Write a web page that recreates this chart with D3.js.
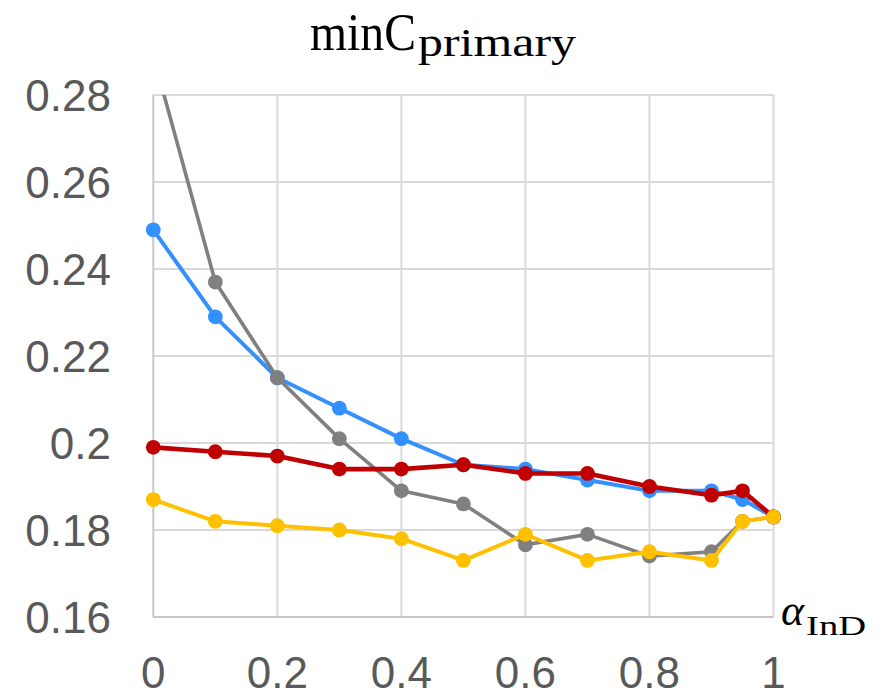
<!DOCTYPE html>
<html>
<head>
<meta charset="utf-8">
<script src="https://cdn.jsdelivr.net/npm/d3@7"></script>
<style>
  body { margin: 0; background: #fff; }
  svg { display: block; }
</style>
</head>
<body>
<script>
// data
var alpha = [0, 0.1, 0.2, 0.3, 0.4, 0.5, 0.6, 0.7, 0.8, 0.9, 0.95, 1];
var blueVals   = [0.249, 0.229, 0.215, 0.208, 0.201, 0.195, 0.194, 0.1915, 0.189, 0.189, 0.187, 0.183];
var grayVals   = [0.289, 0.237, 0.215, 0.201, 0.189, 0.186, 0.1766, 0.179, 0.174, 0.175, 0.182, 0.183];
var redVals    = [0.199, 0.198, 0.197, 0.194, 0.194, 0.195, 0.193, 0.193, 0.190, 0.188, 0.189, 0.183];
var yellowVals = [0.187, 0.182, 0.181, 0.180, 0.178, 0.173, 0.179, 0.173, 0.175, 0.173, 0.182, 0.183];
var xTicks = [0, 0.2, 0.4, 0.6, 0.8, 1];
var yTicks = [0.16, 0.18, 0.2, 0.22, 0.24, 0.26, 0.28];

// draw order: blue under gray under red under yellow
var series = [
  {vals: blueVals,   color: "#3390ff", width: 4},
  {vals: grayVals,   color: "#808080", width: 3.6},
  {vals: redVals,    color: "#c00000", width: 4.6},
  {vals: yellowVals, color: "#ffc000", width: 4}
];

var width = 881, height = 691;
var plot = {left: 153.3, right: 773.5, top: 95, bottom: 617};

var x = d3.scaleLinear().domain([0, 1]).range([plot.left, plot.right]);
var y = d3.scaleLinear().domain([0.16, 0.28]).range([plot.bottom, plot.top]);

var svg = d3.select("body").append("svg")
    .attr("width", width)
    .attr("height", height);

svg.append("defs").append("clipPath")
    .attr("id", "plotclip")
  .append("rect")
    .attr("x", plot.left - 10)
    .attr("y", plot.top)
    .attr("width", plot.right - plot.left + 20)
    .attr("height", plot.bottom - plot.top + 10);

// gridlines
svg.append("g")
    .selectAll("line")
    .data(yTicks.slice(1))
    .enter().append("line")
    .attr("x1", plot.left).attr("x2", plot.right)
    .attr("y1", function(d) { return y(d); })
    .attr("y2", function(d) { return y(d); })
    .attr("stroke", "#d9d9d9")
    .attr("stroke-width", 2);

svg.append("g")
    .selectAll("line")
    .data(xTicks.slice(1))
    .enter().append("line")
    .attr("y1", plot.top).attr("y2", plot.bottom)
    .attr("x1", function(d) { return x(d); })
    .attr("x2", function(d) { return x(d); })
    .attr("stroke", "#d9d9d9")
    .attr("stroke-width", 2);

// axis lines
svg.append("line")
    .attr("x1", plot.left).attr("x2", plot.left)
    .attr("y1", plot.top).attr("y2", plot.bottom)
    .attr("stroke", "#c8c8c8").attr("stroke-width", 2);
svg.append("line")
    .attr("x1", plot.left).attr("x2", plot.right)
    .attr("y1", plot.bottom).attr("y2", plot.bottom)
    .attr("stroke", "#c8c8c8").attr("stroke-width", 2);

// tick labels
svg.append("g")
    .selectAll("text")
    .data(yTicks)
    .enter().append("text")
    .attr("x", 111)
    .attr("y", function(d) { return y(d); })
    .attr("dy", "0.36em")
    .attr("text-anchor", "end")
    .style("font-family", "Liberation Sans, Arial, sans-serif")
    .style("font-size", "44px")
    .style("fill", "#595959")
    .text(function(d) { return d3.format("")(+d.toFixed(2)); });

svg.append("g")
    .selectAll("text")
    .data(xTicks)
    .enter().append("text")
    .attr("x", function(d) { return x(d); })
    .attr("y", 688)
    .attr("text-anchor", "middle")
    .style("font-family", "Liberation Sans, Arial, sans-serif")
    .style("font-size", "44px")
    .style("fill", "#595959")
    .text(function(d) { return d3.format("")(+d.toFixed(1)); });

// lines and markers
var line = d3.line()
    .x(function(d, i) { return x(alpha[i]); })
    .y(function(d) { return y(d); });

var lines = svg.append("g").attr("clip-path", "url(#plotclip)");

series.forEach(function(s) {
  lines.append("path")
      .datum(s.vals)
      .attr("fill", "none")
      .attr("stroke", s.color)
      .attr("stroke-width", s.width)
      .attr("stroke-linejoin", "round")
      .attr("d", line);
  lines.selectAll(null)
      .data(s.vals)
      .enter().append("circle")
      .attr("cx", function(d, i) { return x(alpha[i]); })
      .attr("cy", function(d) { return y(d); })
      .attr("r", 7.4)
      .attr("fill", s.color);
});

// title
var title = svg.append("text")
    .attr("x", 310)
    .attr("y", 50)
    .style("font-family", "Liberation Serif, serif")
    .style("font-size", "52px")
    .style("fill", "#000");
title.append("tspan")
    .attr("textLength", 106)
    .attr("lengthAdjust", "spacingAndGlyphs")
    .text("minC");
title.append("tspan")
    .attr("dx", 2)
    .attr("dy", 6)
    .attr("textLength", 158)
    .attr("lengthAdjust", "spacingAndGlyphs")
    .style("font-size", "39px")
    .text("primary");

// x axis label
var xl = svg.append("text")
    .attr("x", 781)
    .attr("y", 625)
    .style("font-family", "Liberation Serif, serif")
    .style("fill", "#000");
xl.append("tspan")
    .style("font-style", "italic")
    .style("font-size", "44px")
    .text("α");
xl.append("tspan")
    .attr("dx", 2)
    .attr("dy", 10)
    .attr("textLength", 60)
    .attr("lengthAdjust", "spacingAndGlyphs")
    .style("font-size", "28px")
    .text("InD");
</script>
</body>
</html>
